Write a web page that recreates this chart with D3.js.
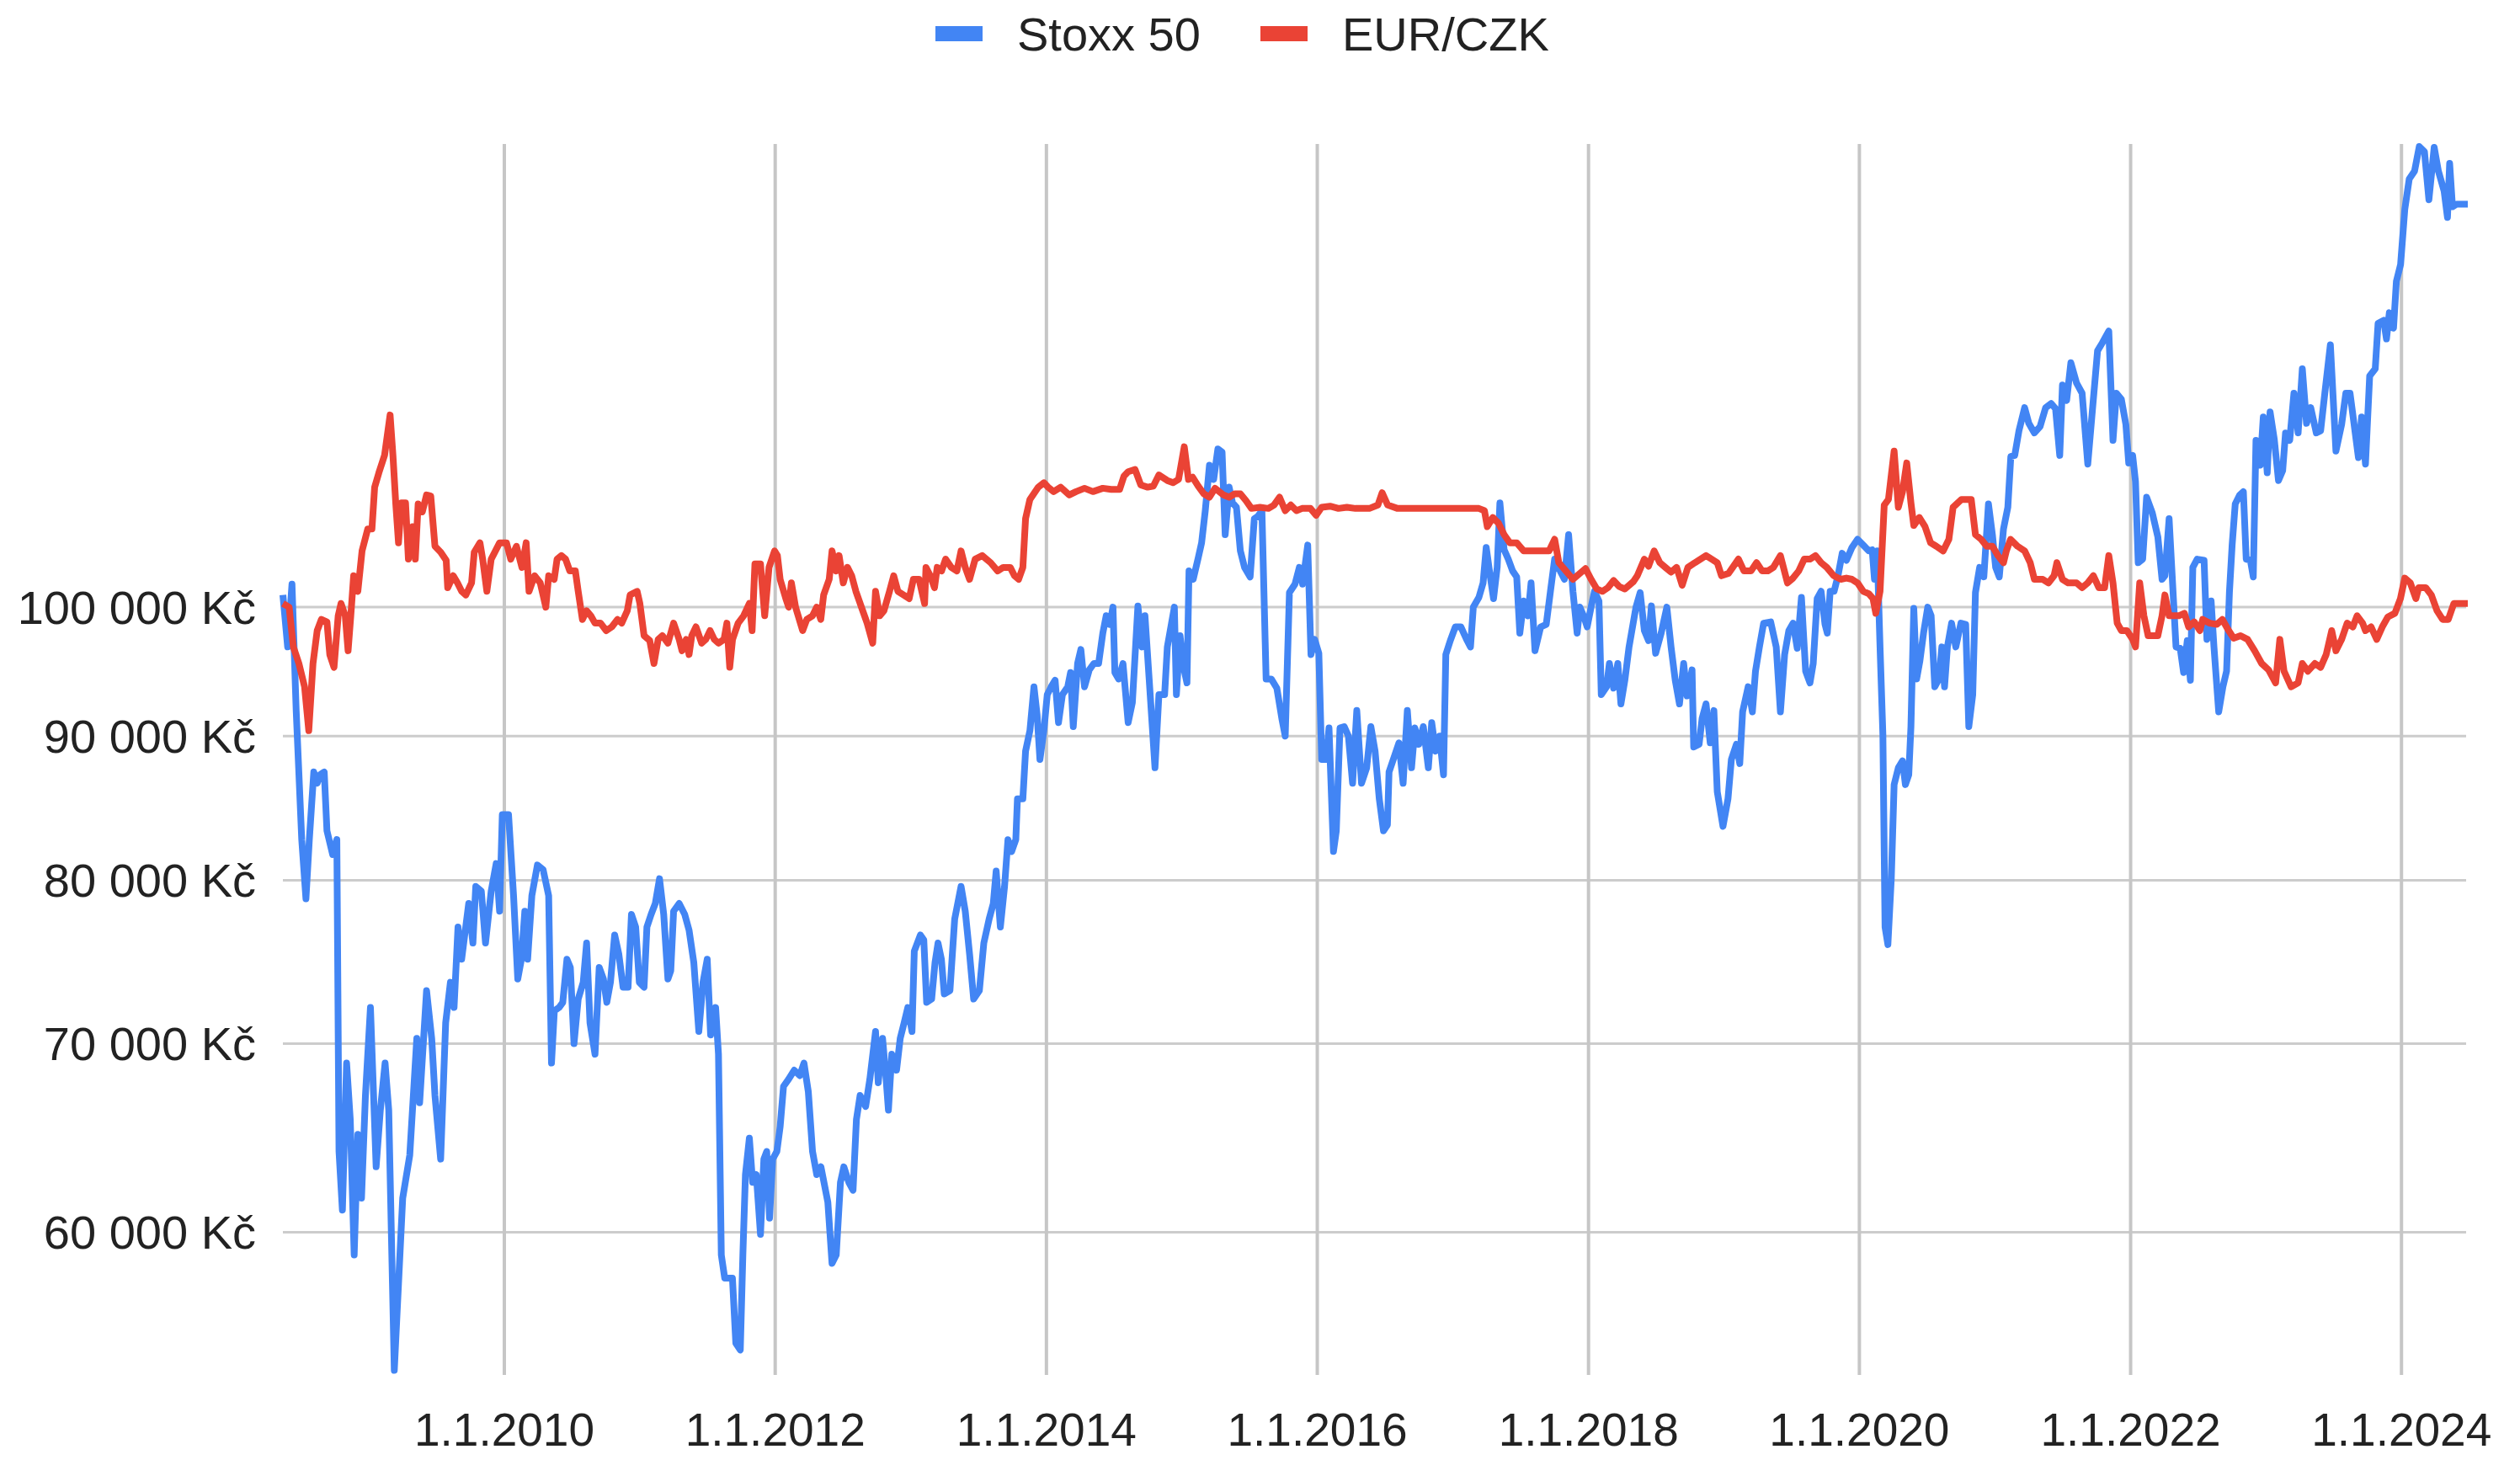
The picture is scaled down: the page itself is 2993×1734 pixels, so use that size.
<!DOCTYPE html>
<html>
<head>
<meta charset="utf-8">
<script src="https://cdn.jsdelivr.net/npm/d3@7"></script>
<style>
    body{margin:0;background:#fff;}
    text{font-family:"Liberation Sans",Arial,Helvetica,sans-serif;fill:#222;}
</style>
</head>
<body>
<div class="canvas"></div>
<script>
// [decimal year, value in Kč]
const stoxx50 = [
[2008.366,101000],[2008.401,96800],[2008.433,101900],[2008.464,91900],[2008.505,82700],[2008.536,78800],[2008.561,82700],[2008.594,87400],
[2008.619,86600],[2008.640,87200],[2008.671,87400],[2008.691,83300],[2008.733,81700],[2008.764,82700],[2008.780,64100],[2008.805,61100],
[2008.836,68900],[2008.863,65800],[2008.892,58900],[2008.919,65000],[2008.946,61700],[2008.975,67100],[2009.012,72100],[2009.054,63300],
[2009.085,66300],[2009.120,68900],[2009.147,66300],[2009.188,53600],[2009.215,57000],[2009.250,61700],[2009.302,63900],[2009.354,70300],
[2009.375,66700],[2009.426,73100],[2009.464,70300],[2009.488,67100],[2009.530,63700],[2009.567,71200],[2009.602,73600],[2009.629,72100],
[2009.658,77000],[2009.685,75000],[2009.737,78500],[2009.768,76000],[2009.789,79600],[2009.830,79300],[2009.861,76000],[2009.903,79300],
[2009.940,81100],[2009.965,78000],[2009.985,84400],[2010.031,84400],[2010.068,79000],[2010.099,73800],[2010.126,75000],[2010.151,78000],
[2010.172,75000],[2010.203,79000],[2010.244,81000],[2010.286,80700],[2010.327,79000],[2010.348,68900],[2010.369,71900],[2010.404,72100],
[2010.431,72400],[2010.462,75000],[2010.487,74500],[2010.514,70000],[2010.545,72600],[2010.582,73600],[2010.607,76000],[2010.632,71200],
[2010.669,69400],[2010.700,74500],[2010.731,73800],[2010.756,72400],[2010.783,73600],[2010.814,76500],[2010.845,75300],[2010.876,73300],
[2010.913,73300],[2010.938,77800],[2010.969,77000],[2010.996,73600],[2011.031,73300],[2011.052,77000],[2011.083,77800],[2011.114,78500],
[2011.145,80100],[2011.176,77800],[2011.207,73800],[2011.228,74300],[2011.249,78000],[2011.290,78500],[2011.331,77800],[2011.363,76800],
[2011.398,74800],[2011.435,70700],[2011.466,73600],[2011.497,75000],[2011.522,70500],[2011.559,72100],[2011.580,69400],[2011.601,58900],
[2011.626,57800],[2011.683,57800],[2011.708,54800],[2011.741,54500],[2011.760,58900],[2011.779,62900],[2011.808,64800],[2011.832,62500],
[2011.859,62900],[2011.890,59900],[2011.915,63700],[2011.936,64100],[2011.957,60700],[2011.980,63700],[2012.011,64100],[2012.035,65400],
[2012.060,67600],[2012.098,68000],[2012.139,68500],[2012.180,68200],[2012.211,68900],[2012.243,67300],[2012.274,64100],[2012.305,62900],
[2012.336,63300],[2012.387,61500],[2012.418,58500],[2012.449,58900],[2012.480,62500],[2012.505,63300],[2012.542,62500],[2012.573,62100],
[2012.598,65800],[2012.625,67100],[2012.666,66500],[2012.697,68000],[2012.739,70700],[2012.759,67800],[2012.791,70300],[2012.817,68000],
[2012.834,66300],[2012.859,69400],[2012.894,68500],[2012.921,70300],[2012.950,71200],[2012.977,72100],[2013.008,70700],[2013.025,75500],
[2013.070,76500],[2013.095,76200],[2013.116,72400],[2013.153,72600],[2013.178,74800],[2013.200,76000],[2013.225,75000],[2013.246,72900],
[2013.288,73100],[2013.323,77500],[2013.370,79600],[2013.401,78000],[2013.433,75300],[2013.463,72600],[2013.505,73100],[2013.538,76000],
[2013.577,77500],[2013.608,78500],[2013.629,80600],[2013.660,77000],[2013.691,79600],[2013.716,82700],[2013.743,81900],[2013.774,82700],
[2013.786,85500],[2013.826,85500],[2013.846,88900],[2013.878,90400],[2013.908,93700],[2013.931,91600],[2013.952,88300],[2013.981,90400],
[2014.006,93100],[2014.035,93700],[2014.064,94200],[2014.089,91000],[2014.118,93100],[2014.157,93700],[2014.178,94800],[2014.198,90700],
[2014.230,95500],[2014.254,96600],[2014.281,93700],[2014.316,95000],[2014.350,95500],[2014.385,95500],[2014.416,97900],[2014.441,99300],
[2014.468,98600],[2014.491,100000],[2014.505,94800],[2014.532,94300],[2014.565,95500],[2014.603,91000],[2014.634,92500],[2014.675,100100],
[2014.706,96800],[2014.727,99300],[2014.758,94300],[2014.801,87700],[2014.830,93100],[2014.872,93100],[2014.892,96800],[2014.923,98700],
[2014.944,100000],[2014.959,93100],[2014.986,97700],[2015.012,95200],[2015.037,94000],[2015.052,103000],[2015.083,102300],[2015.120,104100],
[2015.145,105400],[2015.172,108200],[2015.203,112300],[2015.234,111000],[2015.265,113800],[2015.296,113500],[2015.319,106100],[2015.348,110300],
[2015.373,108900],[2015.402,108500],[2015.431,104700],[2015.462,103300],[2015.503,102500],[2015.534,107500],[2015.559,107700],[2015.590,108200],
[2015.621,94300],[2015.659,94300],[2015.700,93600],[2015.737,91300],[2015.762,90000],[2015.793,101200],[2015.834,101900],[2015.866,103300],
[2015.890,101900],[2015.928,105200],[2015.952,96200],[2015.979,97400],[2016.010,96300],[2016.031,88300],[2016.064,88300],[2016.085,90600],
[2016.118,81900],[2016.139,83300],[2016.166,90600],[2016.197,90700],[2016.228,90000],[2016.259,86600],[2016.290,91900],[2016.325,86600],
[2016.363,87700],[2016.394,90700],[2016.425,88900],[2016.456,85500],[2016.487,83300],[2016.516,83700],[2016.528,87400],[2016.570,88600],
[2016.601,89500],[2016.632,86600],[2016.663,91900],[2016.694,87700],[2016.719,90600],[2016.748,89400],[2016.781,90700],[2016.818,87700],
[2016.843,91000],[2016.872,88900],[2016.901,90000],[2016.930,87200],[2016.947,96200],[2016.980,97300],[2017.017,98400],[2017.058,98400],
[2017.100,97400],[2017.129,96800],[2017.150,100000],[2017.191,100800],[2017.222,102000],[2017.245,105000],[2017.274,102600],[2017.299,100700],
[2017.326,103300],[2017.346,108900],[2017.377,104800],[2017.408,104000],[2017.440,103000],[2017.470,102500],[2017.493,97900],[2017.522,100500],
[2017.553,99300],[2017.576,102000],[2017.605,96500],[2017.647,98400],[2017.688,98600],[2017.719,101300],[2017.750,104000],[2017.791,103000],
[2017.822,102300],[2017.853,106100],[2017.885,101300],[2017.916,97900],[2017.936,100000],[2017.967,99200],[2017.990,98400],[2018.019,100000],
[2018.044,101300],[2018.077,100500],[2018.094,93100],[2018.133,93700],[2018.154,95500],[2018.185,93600],[2018.216,95500],[2018.239,92400],
[2018.268,94200],[2018.299,96800],[2018.350,100000],[2018.381,101200],[2018.412,98100],[2018.443,97300],[2018.464,100100],[2018.495,96300],
[2018.536,97900],[2018.578,100000],[2018.609,96800],[2018.640,94200],[2018.671,92400],[2018.702,95500],[2018.727,93000],[2018.764,95000],
[2018.776,89200],[2018.816,89400],[2018.838,91300],[2018.867,92400],[2018.898,89500],[2018.925,91900],[2018.950,86000],[2018.992,83600],
[2019.029,85500],[2019.054,88300],[2019.091,89400],[2019.116,88000],[2019.137,91800],[2019.178,93700],[2019.209,91800],[2019.232,94900],
[2019.261,96800],[2019.292,98700],[2019.344,98800],[2019.385,96800],[2019.416,91800],[2019.447,96200],[2019.478,98100],[2019.509,98700],
[2019.540,96700],[2019.571,100800],[2019.602,94900],[2019.634,94000],[2019.658,95500],[2019.687,100700],[2019.716,101300],[2019.745,98600],
[2019.762,97900],[2019.783,101300],[2019.812,101300],[2019.841,102600],[2019.872,104500],[2019.903,103900],[2019.944,105000],[2019.985,105700],
[2020.027,105200],[2020.068,104700],[2020.093,104800],[2020.110,102300],[2020.130,104700],[2020.151,96800],[2020.172,90100],[2020.188,77000],
[2020.209,75900],[2020.234,80100],[2020.255,86500],[2020.286,87700],[2020.317,88200],[2020.338,86500],[2020.363,87200],[2020.379,90700],
[2020.400,99900],[2020.421,94300],[2020.445,95700],[2020.472,97900],[2020.503,100000],[2020.528,99300],[2020.555,93700],[2020.586,94300],
[2020.607,96800],[2020.627,93700],[2020.648,96800],[2020.679,98700],[2020.710,96800],[2020.748,98700],[2020.783,98600],[2020.806,90700],
[2020.835,93100],[2020.855,101200],[2020.886,103300],[2020.917,102500],[2020.951,108800],[2020.980,106100],[2021.004,103300],[2021.031,102500],
[2021.062,106600],[2021.094,108500],[2021.116,113100],[2021.145,113200],[2021.176,115500],[2021.218,117700],[2021.249,116200],[2021.290,115300],
[2021.332,115900],[2021.373,117700],[2021.414,118100],[2021.446,117600],[2021.477,113200],[2021.497,119900],[2021.528,118400],[2021.559,122100],
[2021.601,120100],[2021.642,119100],[2021.684,112400],[2021.715,117000],[2021.756,123300],[2021.791,124100],[2021.839,125300],[2021.870,114600],
[2021.895,119100],[2021.932,118500],[2021.965,116100],[2021.986,112500],[2022.015,113200],[2022.036,110800],[2022.056,103700],[2022.089,104000],
[2022.118,109400],[2022.160,108000],[2022.201,105900],[2022.232,102300],[2022.253,102600],[2022.284,107500],[2022.335,96800],[2022.366,96700],
[2022.391,94800],[2022.418,97300],[2022.441,94200],[2022.459,103300],[2022.491,104000],[2022.542,103900],[2022.563,97400],[2022.594,100500],
[2022.615,96800],[2022.650,91800],[2022.681,93700],[2022.708,94900],[2022.729,101200],[2022.749,105200],[2022.772,108800],[2022.805,109600],
[2022.832,109900],[2022.853,104000],[2022.884,103900],[2022.905,102500],[2022.925,114600],[2022.956,112300],[2022.979,116800],[2023.008,111600],
[2023.029,117300],[2023.060,114700],[2023.091,110900],[2023.122,111800],[2023.143,115300],[2023.174,114600],[2023.205,119100],[2023.236,115300],
[2023.267,121500],[2023.298,116200],[2023.329,117700],[2023.370,115300],[2023.402,115500],[2023.433,119100],[2023.474,123900],[2023.515,113600],
[2023.557,116100],[2023.588,119100],[2023.619,119100],[2023.642,116800],[2023.681,113000],[2023.704,116800],[2023.733,112400],[2023.764,120800],
[2023.805,121500],[2023.826,126100],[2023.867,126400],[2023.888,124500],[2023.909,127200],[2023.940,125600],[2023.961,130500],[2023.992,132300],
[2024.023,138400],[2024.056,141900],[2024.095,142800],[2024.130,145700],[2024.168,145100],[2024.201,139500],[2024.240,145600],[2024.271,142800],
[2024.313,140500],[2024.338,137500],[2024.354,143700],[2024.375,138700],[2024.406,139000],[2024.488,139000]
];

const eurCzk = [
[2008.366,100300],[2008.412,100000],[2008.443,96800],[2008.484,95500],[2008.526,93700],[2008.557,90400],[2008.588,95500],[2008.619,98100],
[2008.650,99000],[2008.691,98800],[2008.712,96200],[2008.743,95200],[2008.774,99300],[2008.795,100300],[2008.826,99300],[2008.847,96500],
[2008.867,99300],[2008.888,102600],[2008.919,101300],[2008.950,104700],[2008.992,106600],[2009.023,106600],[2009.043,110300],[2009.074,111600],
[2009.116,113200],[2009.157,117000],[2009.178,113200],[2009.199,108800],[2009.219,105400],[2009.240,108900],[2009.271,108900],[2009.292,104000],
[2009.323,106800],[2009.343,104000],[2009.364,108800],[2009.395,108100],[2009.426,109600],[2009.457,109500],[2009.488,105100],[2009.530,104600],
[2009.571,103900],[2009.582,101600],[2009.623,102600],[2009.654,102000],[2009.685,101300],[2009.716,101000],[2009.758,102000],[2009.778,104600],
[2009.820,105400],[2009.840,104000],[2009.871,101300],[2009.903,104000],[2009.965,105400],[2010.016,105400],[2010.047,104000],[2010.089,105100],
[2010.130,103300],[2010.161,105400],[2010.182,101300],[2010.223,102600],[2010.265,102000],[2010.306,100000],[2010.327,102600],[2010.368,102300],
[2010.389,104000],[2010.421,104300],[2010.452,104000],[2010.483,103000],[2010.524,103000],[2010.545,101300],[2010.576,99000],[2010.607,99700],
[2010.638,99300],[2010.669,98700],[2010.710,98700],[2010.752,98100],[2010.793,98400],[2010.835,99000],[2010.866,98700],[2010.907,99700],
[2010.928,101000],[2010.980,101300],[2011.000,100300],[2011.031,97700],[2011.073,97300],[2011.104,95500],[2011.135,97400],[2011.166,97700],
[2011.207,97100],[2011.249,98700],[2011.290,97400],[2011.311,96500],[2011.342,97400],[2011.363,96200],[2011.383,97700],[2011.414,98400],
[2011.456,97100],[2011.487,97400],[2011.518,98100],[2011.549,97400],[2011.580,97100],[2011.621,97400],[2011.642,98700],[2011.663,95200],
[2011.684,97400],[2011.725,98700],[2011.766,99300],[2011.808,100300],[2011.828,98100],[2011.849,103600],[2011.890,103600],[2011.921,99300],
[2011.953,103300],[2011.994,104700],[2012.015,104300],[2012.035,102300],[2012.077,100700],[2012.098,100000],[2012.118,102000],[2012.149,100000],
[2012.201,98100],[2012.232,99000],[2012.274,99300],[2012.305,100000],[2012.335,99000],[2012.356,101000],[2012.397,102300],[2012.418,104700],
[2012.449,103000],[2012.470,104300],[2012.501,102000],[2012.532,103300],[2012.563,102600],[2012.594,101300],[2012.635,100000],[2012.677,98700],
[2012.718,97100],[2012.739,101300],[2012.770,99300],[2012.801,99700],[2012.842,101300],[2012.873,102600],[2012.904,101300],[2012.946,101000],
[2012.987,100700],[2013.018,102300],[2013.060,102300],[2013.101,100300],[2013.111,103300],[2013.143,102600],[2013.174,101600],[2013.194,103300],
[2013.226,103000],[2013.256,104000],[2013.298,103300],[2013.339,103000],[2013.370,104700],[2013.401,103300],[2013.433,102300],[2013.474,104000],
[2013.526,104300],[2013.588,103700],[2013.640,103000],[2013.681,103300],[2013.733,103300],[2013.764,102600],[2013.795,102300],[2013.826,103300],
[2013.846,107500],[2013.878,109200],[2013.940,110300],[2013.981,110700],[2014.012,110300],[2014.053,109900],[2014.105,110300],[2014.168,109600],
[2014.219,109900],[2014.281,110200],[2014.343,109900],[2014.416,110200],[2014.478,110100],[2014.540,110100],[2014.572,111300],[2014.603,111700],
[2014.654,111900],[2014.696,110500],[2014.747,110300],[2014.789,110400],[2014.830,111400],[2014.892,110900],[2014.934,110700],[2014.975,111000],
[2015.017,114000],[2015.048,111000],[2015.079,111200],[2015.120,110400],[2015.162,109700],[2015.203,109400],[2015.244,110200],[2015.306,109600],
[2015.348,109400],[2015.389,109700],[2015.431,109700],[2015.472,109100],[2015.513,108400],[2015.576,108500],[2015.638,108400],[2015.679,108700],
[2015.720,109400],[2015.762,108200],[2015.803,108700],[2015.845,108200],[2015.886,108400],[2015.948,108400],[2015.990,107800],[2016.031,108500],
[2016.093,108600],[2016.155,108400],[2016.217,108500],[2016.280,108400],[2016.383,108400],[2016.446,108700],[2016.477,109800],[2016.518,108700],
[2016.591,108400],[2016.694,108400],[2016.798,108400],[2016.901,108400],[2017.005,108400],[2017.108,108400],[2017.191,108400],[2017.232,108200],
[2017.253,106800],[2017.294,107600],[2017.336,107100],[2017.377,106100],[2017.419,105400],[2017.470,105400],[2017.522,104700],[2017.584,104700],
[2017.646,104700],[2017.709,104700],[2017.750,105700],[2017.781,103700],[2017.833,103000],[2017.885,102300],[2017.916,102600],[2017.978,103200],
[2018.019,102300],[2018.061,101500],[2018.102,101300],[2018.143,101600],[2018.185,102200],[2018.226,101700],[2018.268,101500],[2018.330,102100],
[2018.360,102600],[2018.412,104000],[2018.443,103400],[2018.484,104700],[2018.526,103700],[2018.567,103300],[2018.609,102900],[2018.650,103300],
[2018.691,101800],[2018.733,103300],[2018.785,103700],[2018.826,104000],[2018.867,104300],[2018.909,104000],[2018.950,103700],[2018.981,102600],
[2019.033,102800],[2019.064,103300],[2019.106,104000],[2019.147,103000],[2019.199,103000],[2019.240,103700],[2019.281,103000],[2019.323,103000],
[2019.364,103300],[2019.416,104300],[2019.468,102000],[2019.509,102400],[2019.551,103000],[2019.592,104000],[2019.634,104000],[2019.675,104300],
[2019.716,103700],[2019.758,103300],[2019.809,102600],[2019.861,102300],[2019.903,102400],[2019.944,102300],[2019.985,102000],[2020.027,101300],
[2020.068,101100],[2020.099,100700],[2020.120,99500],[2020.151,101300],[2020.182,108700],[2020.213,109200],[2020.255,113600],[2020.286,108500],
[2020.317,109900],[2020.348,112500],[2020.379,108900],[2020.400,106900],[2020.441,107600],[2020.483,106800],[2020.524,105400],[2020.566,105100],
[2020.617,104700],[2020.659,105700],[2020.690,108500],[2020.752,109200],[2020.793,109200],[2020.824,109200],[2020.855,106100],[2020.897,105700],
[2020.938,105100],[2020.980,105100],[2021.021,104300],[2021.062,103700],[2021.083,104700],[2021.114,105700],[2021.166,105100],[2021.218,104700],
[2021.259,103700],[2021.290,102300],[2021.352,102300],[2021.394,102000],[2021.435,102600],[2021.456,103700],[2021.497,102300],[2021.539,102000],
[2021.601,102000],[2021.642,101600],[2021.684,102000],[2021.725,102600],[2021.766,101600],[2021.808,101600],[2021.839,104300],[2021.870,102000],
[2021.901,98700],[2021.932,98100],[2021.973,98100],[2022.015,97400],[2022.036,96800],[2022.067,102000],[2022.098,99300],[2022.129,97700],
[2022.160,97700],[2022.201,97700],[2022.232,99300],[2022.253,101000],[2022.284,99300],[2022.356,99300],[2022.397,99500],[2022.428,98400],
[2022.470,98800],[2022.511,98100],[2022.532,99000],[2022.584,98700],[2022.636,98600],[2022.677,99000],[2022.718,98200],[2022.760,97500],
[2022.811,97700],[2022.863,97400],[2022.915,96500],[2022.967,95500],[2023.018,95000],[2023.070,94000],[2023.101,97400],[2023.132,94900],
[2023.184,93700],[2023.236,94000],[2023.267,95500],[2023.308,94900],[2023.360,95500],[2023.402,95200],[2023.443,96200],[2023.484,98100],
[2023.515,96500],[2023.557,97400],[2023.598,98700],[2023.640,98400],[2023.671,99300],[2023.712,98700],[2023.733,98100],[2023.774,98400],
[2023.816,97400],[2023.857,98400],[2023.898,99200],[2023.950,99500],[2023.991,100700],[2024.023,102400],[2024.064,102000],[2024.105,100700],
[2024.126,101600],[2024.178,101600],[2024.219,101000],[2024.261,99700],[2024.302,99000],[2024.344,99000],[2024.385,100300],[2024.488,100300]
];

const seriesNames = ['Stoxx 50','EUR/CZK'];
const colours = ['#4285f4','#ea4335'];
const yTicks = [60000,70000,80000,90000,100000];

const dim = {width:2993,height:1734};
const plot = {left:336,right:2931,top:171,bottom:1633};

// decimal year -> Date (UTC)
const toDate = y => new Date(Date.UTC(2010,0,1) + (y-2010)*365.25*864e5);

const series = [stoxx50,eurCzk].map((pts,i)=>({
    name:seriesNames[i],
    colour:colours[i],
    values:pts.map(p=>({date:toDate(p[0]),value:p[1]}))
}));

const svg = d3.select('.canvas')
    .append('svg')
    .attr('width',dim.width)
    .attr('height',dim.height);

const x = d3.scaleUtc()
    .domain([toDate(stoxx50[0][0]),toDate(stoxx50[stoxx50.length-1][0])])
    .range([plot.left,plot.right]);

const y = d3.scaleLog()
    .domain([53400,146000])
    .range([plot.bottom,plot.top]);

const fmtKc = v => d3.format(',')(v).replace(/,/g,' ') + ' Kč';
const fmtDate = d3.utcFormat('%-d.%-m.%Y');
const xTicks = x.ticks(d3.utcYear.every(2));

//grid
const grid = svg.append('g');
grid.selectAll('line.h')
    .data(yTicks)
    .enter().append('line')
    .attr('class','h')
    .attr('x1',plot.left).attr('x2',plot.right-2)
    .attr('y1',d=>y(d)).attr('y2',d=>y(d))
    .attr('stroke','#cccccc')
    .attr('stroke-width',3);
grid.selectAll('line.v')
    .data(xTicks)
    .enter().append('line')
    .attr('class','v')
    .attr('x1',d=>x(d)).attr('x2',d=>x(d))
    .attr('y1',plot.top).attr('y2',plot.bottom)
    .attr('stroke','#c6c6c6')
    .attr('stroke-width',4);

//axis labels
svg.append('g').selectAll('text')
    .data(yTicks)
    .enter().append('text')
    .attr('x',304)
    .attr('y',d=>y(d))
    .attr('text-anchor','end')
    .attr('dominant-baseline','central')
    .attr('font-size',56)
    .text(fmtKc);

svg.append('g').selectAll('text')
    .data(xTicks)
    .enter().append('text')
    .attr('x',d=>x(d))
    .attr('y',1698)
    .attr('text-anchor','middle')
    .attr('dominant-baseline','central')
    .attr('font-size',55)
    .text(fmtDate);

//lines
const line = d3.line()
    .x(d=>x(d.date))
    .y(d=>y(d.value));

svg.append('g').selectAll('path')
    .data(series)
    .enter().append('path')
    .attr('d',d=>line(d.values))
    .attr('fill','none')
    .attr('stroke',d=>d.colour)
    .attr('stroke-width',8)
    .attr('stroke-linejoin','round');

//legend
const legendPos = [1111,1497];
const legend = svg.append('g').selectAll('g')
    .data(series)
    .enter().append('g')
    .attr('transform',(d,i)=>`translate(${legendPos[i]},40)`);
legend.append('rect')
    .attr('x',0).attr('y',-9)
    .attr('width',56).attr('height',18)
    .attr('fill',d=>d.colour);
legend.append('text')
    .attr('x',97)
    .attr('y',0)
    .attr('dominant-baseline','central')
    .attr('font-size',56)
    .text(d=>d.name);
</script>
</body>
</html>
